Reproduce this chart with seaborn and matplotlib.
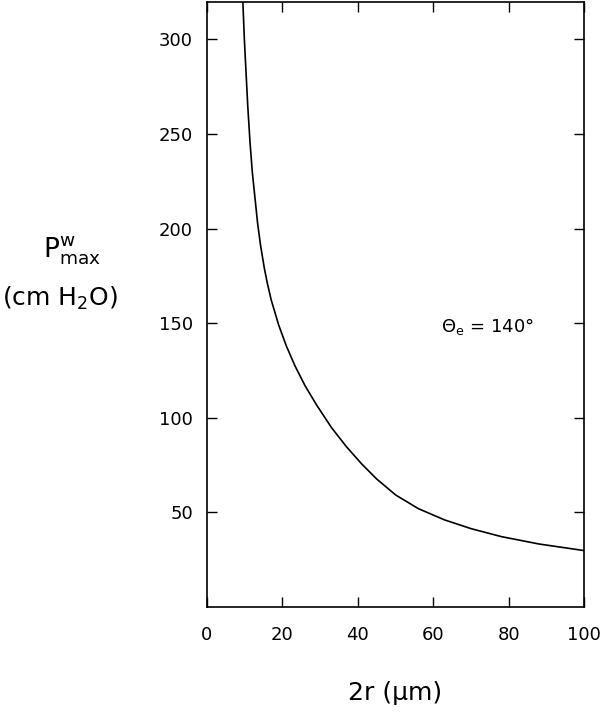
import matplotlib
matplotlib.use("Agg")
import matplotlib.pyplot as plt
import seaborn as sns
import pandas as pd

# data
diameter_um = [9.5, 9.9, 10.8, 11.4, 12.0, 13.4, 14.2, 15.2, 16.0, 17.0, 19.0,
               21.0, 23.3, 26.0, 29.0, 33.0, 37.0, 41.0, 45.0, 50.0, 56.0,
               63.0, 70.0, 78.0, 88.0, 100.0]
pressure_cmH2O = [320, 300, 264.8, 245.6, 230, 203, 191, 179, 171, 162.4, 149,
                  138.1, 127.5, 116.9, 106.9, 94.8, 84.6, 75.6, 67.6, 59.2, 52.0,
                  46.0, 41.4, 37.2, 33.3, 29.8]
x_ticks = [0, 20, 40, 60, 80, 100]
y_ticks = [50, 100, 150, 200, 250, 300]

df = pd.DataFrame({"d": diameter_um, "p": pressure_cmH2O})

sns.set_theme(style="ticks")
plt.rcParams["font.family"] = ["DejaVu Sans"]
plt.rcParams["mathtext.default"] = "regular"
plt.rcParams["text.color"] = "black"

fig = plt.figure(figsize=(6.0, 7.14), dpi=100)
ax = fig.add_axes([207/600, 1-607/714, (584.3-207)/600, (607-1.5)/714])

sns.lineplot(data=df, x="d", y="p", color="black", linewidth=1.2, ax=ax)

ax.set_xlim(0, 100)
ax.set_ylim(0, 320)
ax.set_xticks(x_ticks)
ax.set_yticks(y_ticks)
ax.set_xlabel("")
ax.set_ylabel("")
for s in ax.spines.values():
    s.set_visible(True)
    s.set_linewidth(1.2)
    s.set_color("black")
ax.tick_params(direction="in", top=True, right=True, length=7, width=1.0,
               labelsize=13, colors="black")
ax.tick_params(axis="y", pad=10)
ax.tick_params(axis="x", pad=14)

ax.text(62, 145.3, r"$\Theta_e$ = 140°", fontsize=13, ha="left", va="baseline", color="black")

fig.text(395/600, 1-700/714, "2r (μm)", fontsize=18, ha="center", va="baseline", color="black")
fig.text(72/600, 1-257/714, r"$P^{w}_{max}$", fontsize=19, ha="center", va="baseline", color="black")
fig.text(60/600, 1-306/714, r"(cm H$_2$O)", fontsize=18, ha="center", va="baseline", color="black")

fig.savefig("out.png", dpi=100)
